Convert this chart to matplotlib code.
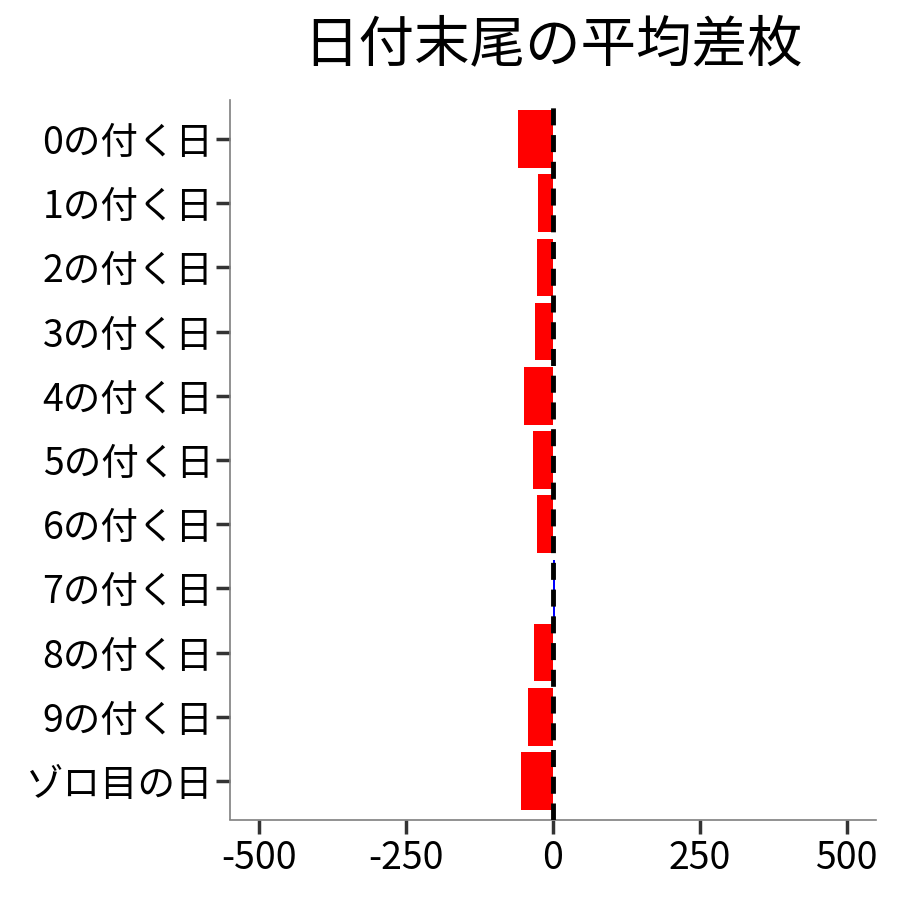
import numpy as np
import matplotlib
matplotlib.use("Agg")
import matplotlib.pyplot as plt

plt.rcParams['font.family'] = ['Noto Sans CJK JP', 'DejaVu Sans']

# 日付末尾ごとの平均差枚
labels = ["0の付く日", "1の付く日", "2の付く日", "3の付く日", "4の付く日",
          "5の付く日", "6の付く日", "7の付く日", "8の付く日", "9の付く日", "ゾロ目の日"]
values = [-60, -26, -27, -31, -49, -34, -27, 3, -32, -43, -54]
xticks = [-500, -250, 0, 250, 500]

colors = ['red' if v < 0 else 'blue' for v in values]
ypos = np.arange(len(labels))

fig = plt.figure(figsize=(9, 9), dpi=100)
ax = fig.add_axes([230/900, 1 - 819.5/900, 646/900, 719/900])

ax.barh(ypos, values, height=0.9, color=colors, zorder=2)
ax.axvline(0, color='black', linewidth=3.5, linestyle=(0, (3.5, 2)), zorder=3)

ax.set_xlim(-550, 550)
ax.set_ylim(len(labels) - 0.4, -0.6)
ax.set_yticks(ypos)
ax.set_yticklabels(labels, fontsize=27)
ax.set_xticks(xticks)
ax.set_xticklabels([str(t) for t in xticks], fontsize=27)

for side in ['top', 'right']:
    ax.spines[side].set_visible(False)
for side in ['left', 'bottom']:
    ax.spines[side].set_color('#7f7f7f')
    ax.spines[side].set_linewidth(1.2)
ax.tick_params(axis='both', length=10, width=2.5, color='#333333', labelcolor='black')
ax.tick_params(axis='y', pad=2)
ax.tick_params(axis='x', pad=4)

fig.text(553/900, 1 - 45/900, "日付末尾の平均差枚", fontsize=40, ha='center', va='center')

fig.savefig("out.png", dpi=100)
